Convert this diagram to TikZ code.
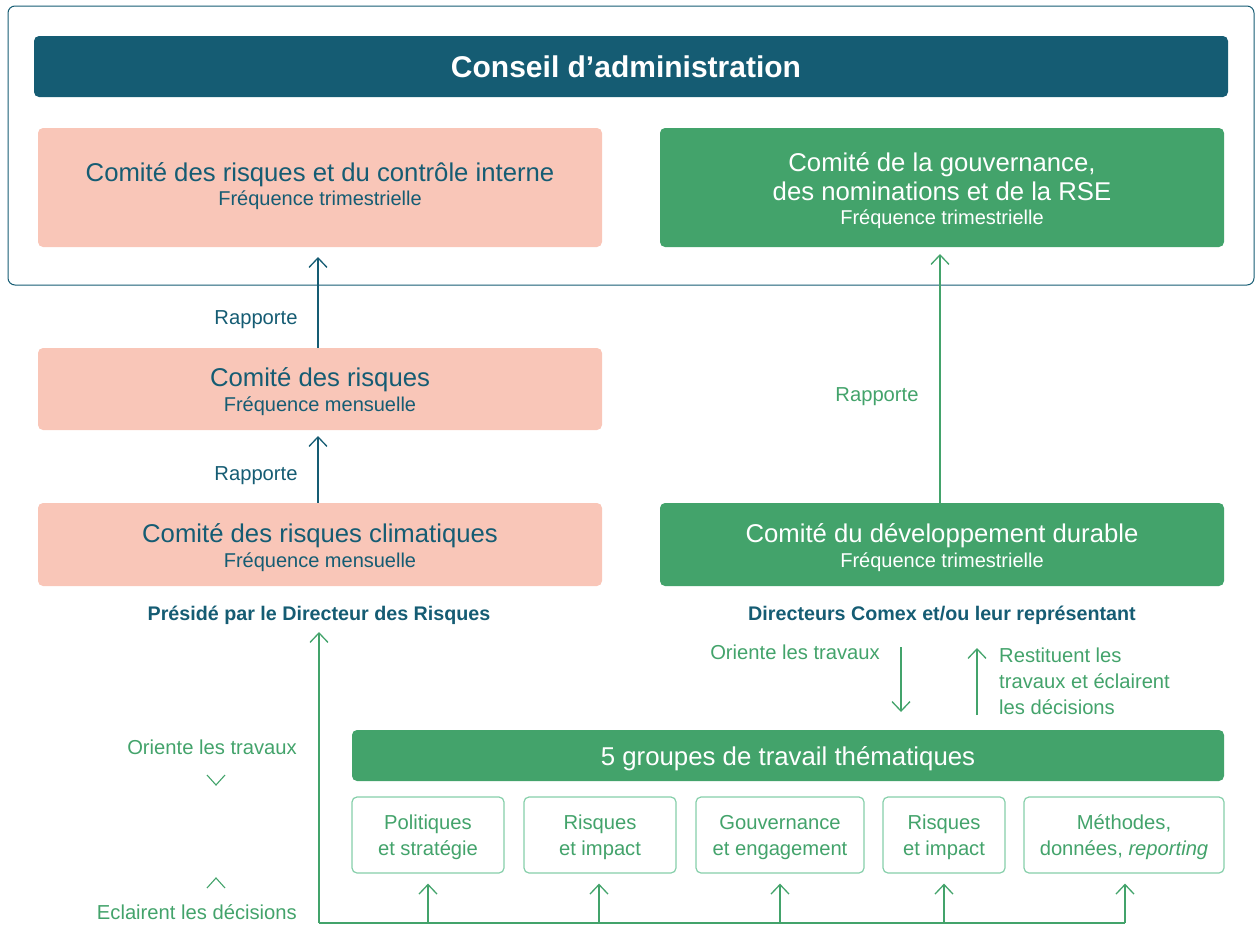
\documentclass[tikz,border=0pt]{standalone}
\usepackage{fontspec}
\setmainfont{Liberation Sans}
\usetikzlibrary{arrows.meta}
\definecolor{cteal}{HTML}{155C73}
\definecolor{cpink}{HTML}{F9C6B8}
\definecolor{cgreen}{HTML}{43A36B}
\definecolor{clight}{HTML}{86CFAA}
\newcommand{\fs}[1]{\fontsize{#1}{#1}\selectfont}
\begin{document}
\begin{tikzpicture}[x=1pt,y=-1pt,
  box/.style={rectangle, rounded corners=5pt, inner sep=0pt, draw=none},
  pinkbox/.style={box, fill=cpink},
  greenbox/.style={box, fill=cgreen},
  wgbox/.style={box, draw=clight, line width=1.2pt, fill=white},
  txt/.style={inner sep=0pt, anchor=base},
  ttl/.style={txt, font=\fs{25.7}},
  sub/.style={txt, font=\fs{20}},
  lbl/.style={txt, font=\fs{20.2}},
  arr/.style={line width=1.3pt, -{Straight Barb[length=9.5pt, width=18pt]}},
  ln/.style={line width=1.3pt}
]
\useasboundingbox (0,0) rectangle (1256,926);
% outer frame
\node[box, draw=cteal, line width=1pt, minimum width=1246pt, minimum height=279pt, rounded corners=7pt] (frame) at (631,145.5) {};
% conseil
\node[box, fill=cteal, minimum width=1194pt, minimum height=61pt] (ca) at (631,66.5) {};
\node[txt, text=white, font=\fs{30}\bfseries] (catxt) at (626,77) {Conseil d’administration};
% box 1 pink
\node[pinkbox, minimum width=564pt, minimum height=119pt] (cric) at (320,187.5) {};
\node[ttl, text=cteal] (cric1) at (320,181) {Comité des risques et du contrôle interne};
\node[sub, text=cteal] (cric2) at (320,205) {Fréquence trimestrielle};
% green 1
\node[greenbox, minimum width=564pt, minimum height=119pt] (cgov) at (942,187.5) {};
\node[ttl, text=white] (cgov1) at (942,171) {Comité de la gouvernance,};
\node[ttl, text=white] (cgov2) at (942,200) {des nominations et de la RSE};
\node[sub, text=white] (cgov3) at (942,224) {Fréquence trimestrielle};
% box 2 pink
\node[pinkbox, minimum width=564pt, minimum height=82pt] (crm) at (320,389) {};
\node[ttl, text=cteal] (crm1) at (320,386) {Comité des risques};
\node[sub, text=cteal] (crm2) at (320,411) {Fréquence mensuelle};
% box 3 pink
\node[pinkbox, minimum width=564pt, minimum height=83pt] (crc) at (320,544.5) {};
\node[ttl, text=cteal] (crc1) at (320,542) {Comité des risques climatiques};
\node[sub, text=cteal] (crc2) at (320,567) {Fréquence mensuelle};
% green 2
\node[greenbox, minimum width=564pt, minimum height=83pt] (cdd) at (942,544.5) {};
\node[ttl, text=white] (cdd1) at (942,542) {Comité du développement durable};
\node[sub, text=white] (cdd2) at (942,567) {Fréquence trimestrielle};
% arrows rapporte
\draw[arr, cteal, shorten >=1pt] (crm.north -| 318,0) -- (318,256) coordinate (t1);
\draw[arr, cteal] (crc.north -| 318,0) -- (318,436) coordinate (t2);
\node[lbl, text=cteal] (r1) at (256,324) {Rapporte};
\node[lbl, text=cteal] (r2) at (256,480) {Rapporte};
\draw[arr, cgreen] (cdd.north -| 940,0) -- (940,254) coordinate (t3);
\node[lbl, text=cgreen] (r3) at (877,401) {Rapporte};
% bold captions
\node[txt, text=cteal, font=\fs{19.7}\bfseries] (pres) at (319,620) {Présidé par le Directeur des Risques};
\node[txt, text=cteal, font=\fs{19.7}\bfseries] (dir) at (942,620) {Directeurs Comex et/ou leur représentant};
% group bar
\node[greenbox, minimum width=872pt, minimum height=51pt] (gt) at (788,755.5) {};
\node[txt, text=white, font=\fs{25.8}] (gttxt) at (788,765) {5 groupes de travail thématiques};
% orient / restituent
\coordinate (od0) at (901,647);
\coordinate (od1) at (901,712);
\coordinate (ou0) at (977,715);
\coordinate (ou1) at (977,648);
\draw[arr, cgreen] (od0) -- (od1);
\draw[arr, cgreen] (ou0) -- (ou1);
\node[lbl, text=cgreen, anchor=base east] (ot) at (880,659) {Oriente les travaux};
\node[lbl, text=cgreen, anchor=base west] (rt1) at (999,662) {Restituent les};
\node[lbl, text=cgreen, anchor=base west] (rt2) at (999,688) {travaux et éclairent};
\node[lbl, text=cgreen, anchor=base west] (rt3) at (999,714) {les décisions};
% small boxes
\node[wgbox, minimum width=152pt, minimum height=76pt] (g1) at (428,835) {};
\node[wgbox, minimum width=152pt, minimum height=76pt] (g2) at (600,835) {};
\node[wgbox, minimum width=168pt, minimum height=76pt] (g3) at (780,835) {};
\node[wgbox, minimum width=122pt, minimum height=76pt] (g4) at (944,835) {};
\node[wgbox, minimum width=200pt, minimum height=76pt] (g5) at (1124,835) {};
\foreach \n/\a/\b in {g1/Politiques/et stratégie, g2/Risques/et impact, g3/Gouvernance/et engagement, g4/Risques/et impact}{
  \node[lbl, text=cgreen] (\n a) at ([yshift=6pt]\n.center) {\a};
  \node[lbl, text=cgreen] (\n b) at ([yshift=-20pt]\n.center) {\b};
}
\node[lbl, text=cgreen] (g5a) at ([yshift=6pt]g5.center) {Méthodes,};
\node[lbl, text=cgreen] (g5b) at ([yshift=-20pt]g5.center) {données, \textit{reporting}};
% bottom connectors
\coordinate (bl) at (319,923);
\coordinate (br) at (1125,923);
\draw[ln, cgreen] (bl) -- (br);
\draw[arr, cgreen] (bl) -- (319,632) coordinate (tp);
\foreach \n/\x in {g1/428, g2/599, g3/780, g4/944, g5/1125}{
  \draw[arr, cgreen] (\x,923) -- ([yshift=-10pt]\n.south -| \x,0);
}
% left labels and chevrons
\node[lbl, text=cgreen, anchor=base east] (lo) at (297,754) {Oriente les travaux};
\node[lbl, text=cgreen, anchor=base east] (le) at (297,919) {Eclairent les décisions};
\draw[ln, cgreen, line width=1.1pt] (207,775) -- (216,785) -- (225,775);
\draw[ln, cgreen, line width=1.1pt] (207,888) -- (216,878) -- (225,888);
\end{tikzpicture}
\end{document}
